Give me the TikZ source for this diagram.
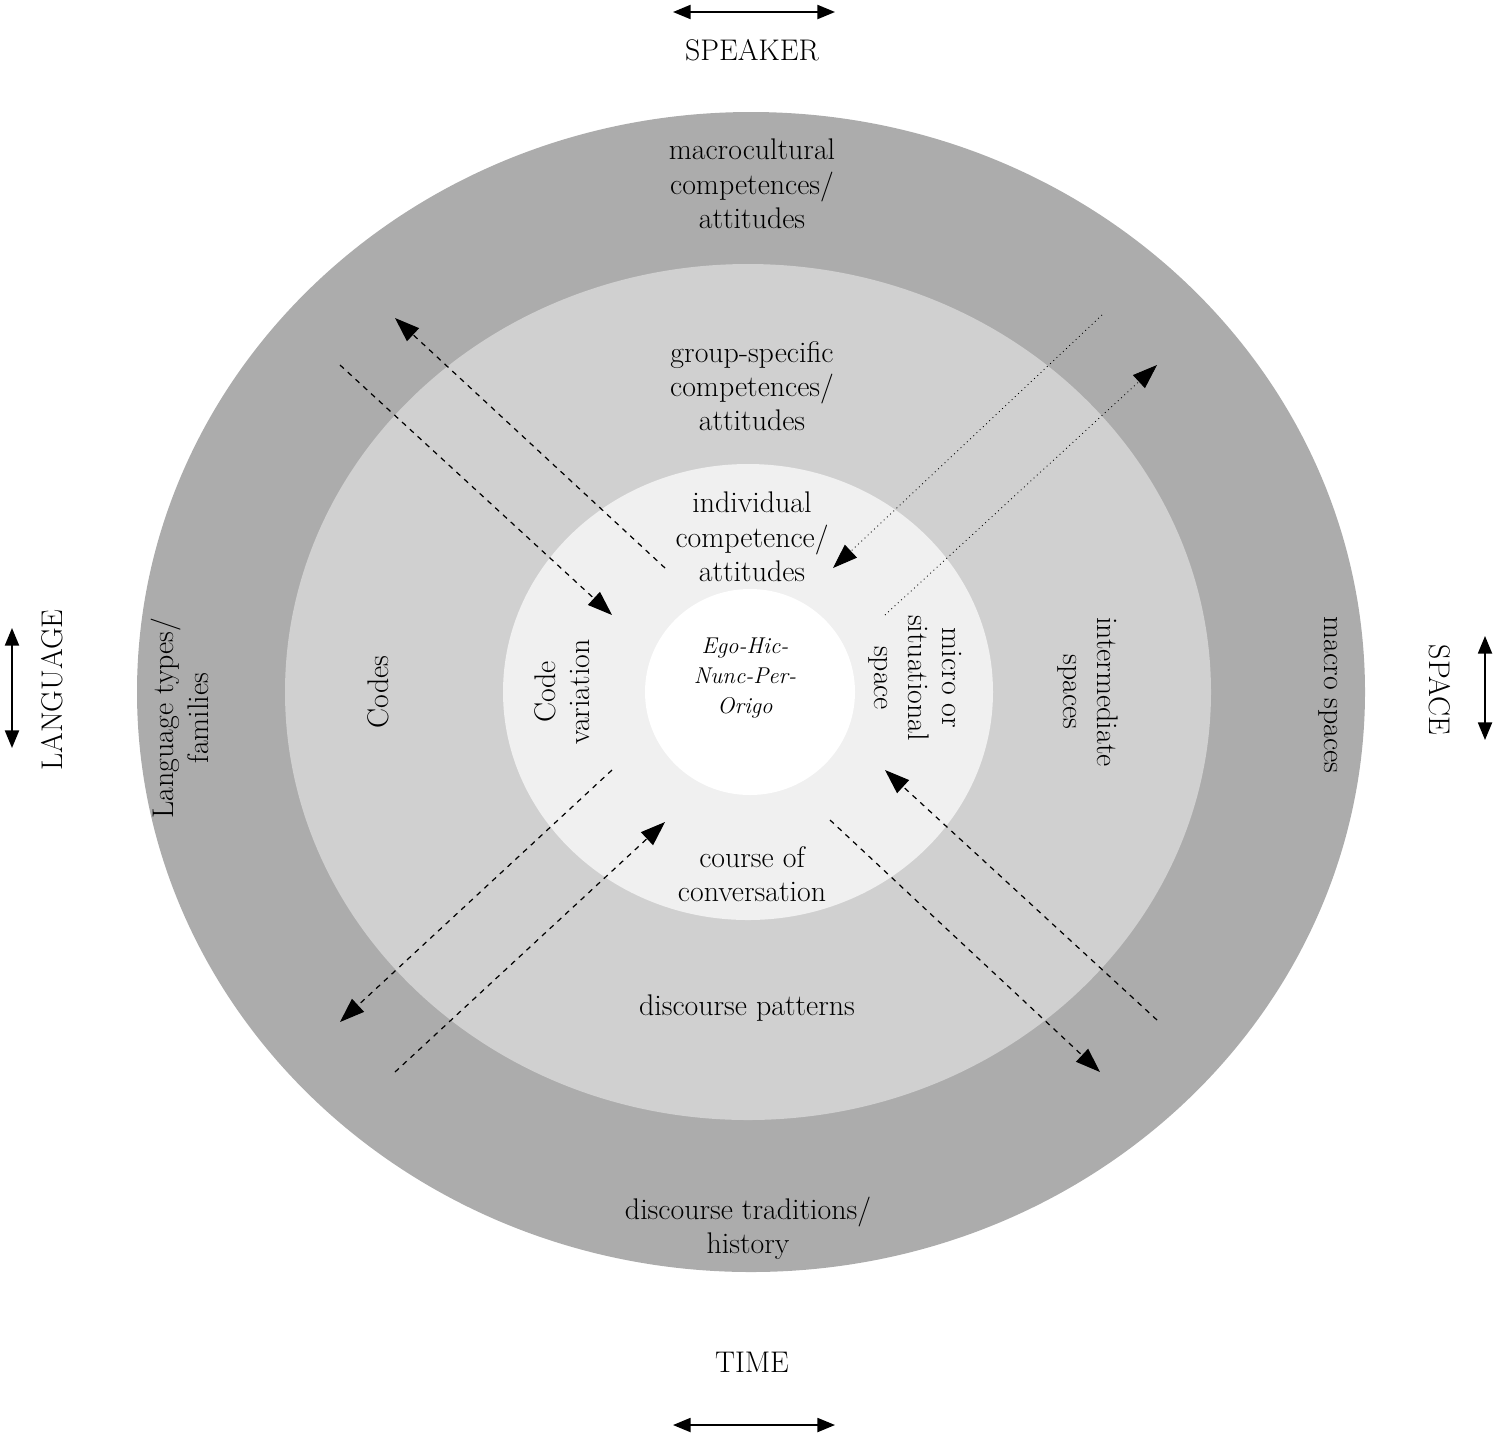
\documentclass[tikz,border=0pt]{standalone}
\usetikzlibrary{arrows.meta}
\begin{document}
\begin{tikzpicture}[x=0.02cm,y=-0.02cm,
  lbl/.style={align=center,font=\fontsize{17}{19.5}\selectfont},
  da/.style={dashed,line width=0.7pt,-{Triangle[length=14pt,width=10pt]}},
  dt/.style={dotted,line width=0.5pt,-{Triangle[length=14pt,width=10pt]}},
  dbl/.style={line width=1pt,{Triangle[length=10pt,width=8pt]}-{Triangle[length=10pt,width=8pt]}}]
\useasboundingbox (0,0) rectangle (1500,1441);
\fill[gray!65] (751,692) ellipse [x radius=614,y radius=580];
\fill[gray!37] (748,692) ellipse [x radius=463,y radius=428];
\fill[gray!12] (748,692) ellipse [x radius=245,y radius=228];
\fill[white] (750,692) ellipse [x radius=105,y radius=103];
% texts
\node[lbl] (mac) at (752,184) {macrocultural\\competences/\\attitudes};
\node[lbl] (grp) at (752,386) {group-specific\\competences/\\attitudes};
\node[lbl] (ind) at (752,537) {individual\\competence/\\attitudes};
\node[lbl] (crs) at (752,874) {course of\\conversation};
\node[lbl] (dp) at (747,1008) {discourse patterns};
\node[lbl] (dt) at (748,1228) {discourse traditions/\\history};
\node[lbl,rotate=90] (lt) at (180,718) {Language types/\\families};
\node[lbl,rotate=90] (cd) at (378,692) {Codes};
\node[lbl,rotate=90] (cv) at (562,692) {Code\\variation};
\node[lbl,rotate=-90] (mi) at (915,678) {micro or\\situational\\space};
\node[lbl,rotate=-90] (is) at (1088,692) {intermediate\\spaces};
\node[lbl,rotate=-90] (ms) at (1328,695) {macro spaces};
\node[align=center,font=\fontsize{13}{17}\selectfont\itshape] (ego) at (745,678) {Ego-Hic-\\Nunc-Per-\\Origo};
\node[lbl] (spk) at (752,50) {SPEAKER};
\node[lbl] (tim) at (752,1362) {TIME};
\node[lbl,rotate=90] (lng) at (52,690) {LANGUAGE};
\node[lbl,rotate=-90] (spc) at (1440,690) {SPACE};
% double arrows
\coordinate (s1) at (673,12); \coordinate (s2) at (835,12);
\coordinate (t1) at (673,1425); \coordinate (t2) at (835,1425);
\coordinate (l1) at (12,628); \coordinate (l2) at (12,748);
\coordinate (p1) at (1485,636); \coordinate (p2) at (1485,740);
\draw[dbl] (s1) -- (s2); \draw[dbl] (t1) -- (t2);
\draw[dbl] (l1) -- (l2); \draw[dbl] (p1) -- (p2);
% diagonal arrows
\coordinate (a1) at (340,365); \coordinate (a2) at (612,615);
\coordinate (b1) at (665,568); \coordinate (b2) at (395,318);
\coordinate (c1) at (1102,315); \coordinate (c2) at (833,568);
\coordinate (d1) at (885,615); \coordinate (d2) at (1157,365);
\coordinate (e1) at (612,770); \coordinate (e2) at (340,1022);
\coordinate (f1) at (395,1072); \coordinate (f2) at (665,822);
\coordinate (g1) at (1157,1020); \coordinate (g2) at (885,770);
\coordinate (h1) at (830,820); \coordinate (h2) at (1100,1072);
\draw[da] (a1) -- (a2); \draw[da] (b1) -- (b2);
\draw[dt] (c1) -- (c2); \draw[dt] (d1) -- (d2);
\draw[da] (e1) -- (e2); \draw[da] (f1) -- (f2);
\draw[da] (g1) -- (g2); \draw[da] (h1) -- (h2);
\end{tikzpicture}
\end{document}
